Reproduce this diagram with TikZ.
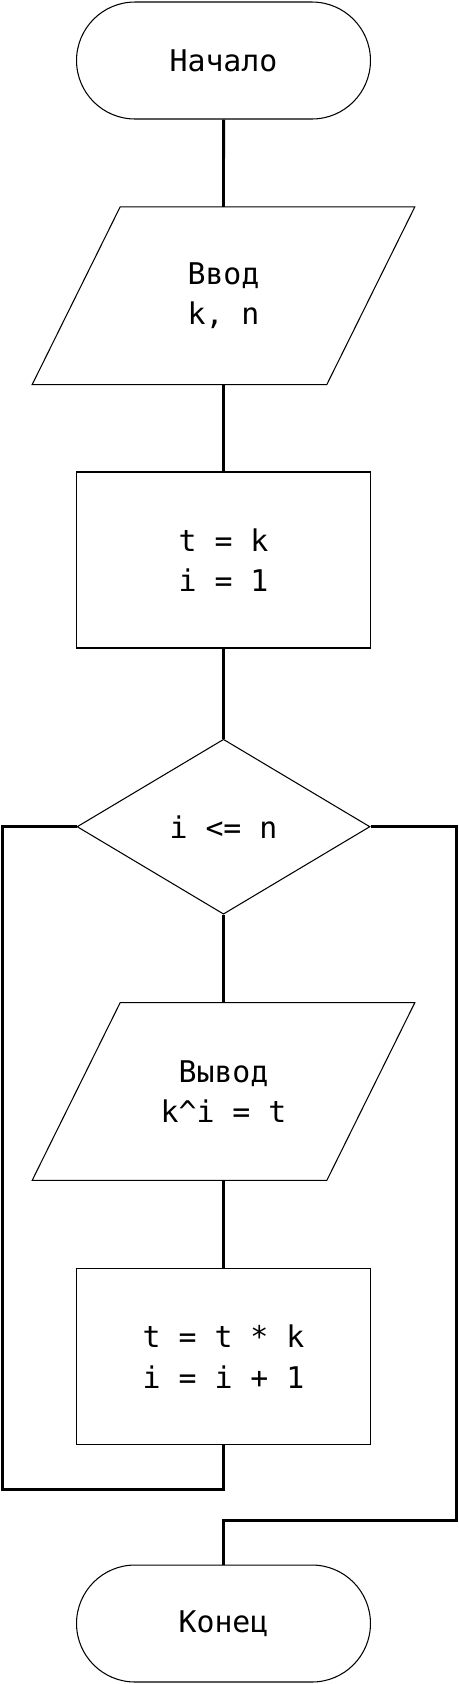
\documentclass[tikz,border=0pt]{standalone}
\usepackage{fontspec}
\setmainfont{DejaVu Sans Mono}
\usetikzlibrary{shapes.geometric,shapes.misc}

\begin{document}
\begin{tikzpicture}
      [%%%%%%%%%%%%%%%%%%%%%%%%%%%%%%
      x=0.02cm, y=-0.02cm,
      every node/.style={font=\fontsize{17}{23}\selectfont, align=center, inner sep=0pt},
      term/.style={rounded rectangle, draw=black, line width=0.6pt, minimum width=5.88cm, minimum height=2.34cm},
      box/.style={rectangle, draw=black, line width=0.6pt, minimum width=5.88cm, minimum height=3.52cm},
      io/.style={rectangle, minimum width=5.88cm, minimum height=3.54cm,
                 append after command={\pgfextra{\draw[line width=0.6pt]
                   ([xshift=0.88cm]\tikzlastnode.north west) -- ([xshift=0.88cm]\tikzlastnode.north east)
                   -- ([xshift=-0.88cm]\tikzlastnode.south east) -- ([xshift=-0.88cm]\tikzlastnode.south west)
                   -- cycle;}}},
      cond/.style={diamond, draw=black, line width=0.6pt, minimum width=5.86cm, minimum height=3.5cm},
      flow/.style={line width=1.7pt},
      ]%%%%%%%%%%%%%%%%%%%%%%%%%%%%%%
      \useasboundingbox (0,0) rectangle (459,1684);

      \node[term] (start) at (223.5,60.5)  {Начало};
      \node[io]   (in)    at (223.5,295.7) {Ввод\\k, n};
      \node[box]  (init)  at (223.5,560)   {t = k\\i = 1};
      \node[cond] (test)  at (223.5,826.7) {i <= n};
      \node[io]   (out)   at (223.5,1091.5){Вывод\\k\textasciicircum i = t};
      \node[box]  (step1) at (223.5,1356.5){t = t * k\\i = i + 1};
      \node[term] (stop)  at (223.5,1623.5){Конец};

      \coordinate (back) at (2.3,1489);
      \coordinate (exit) at (456.7,1520);

      \draw[flow] (start) -- (in);
      \draw[flow] (in) -- (init);
      \draw[flow] (init) -- (test);
      \draw[flow] (test) -- (out);
      \draw[flow] (out) -- (step1);
      \draw[flow] (step1.south) |- (back) |- (test.west);
      \draw[flow] (test.east) -| (exit) -| (stop.north);
    \end{tikzpicture}
\end{document}
